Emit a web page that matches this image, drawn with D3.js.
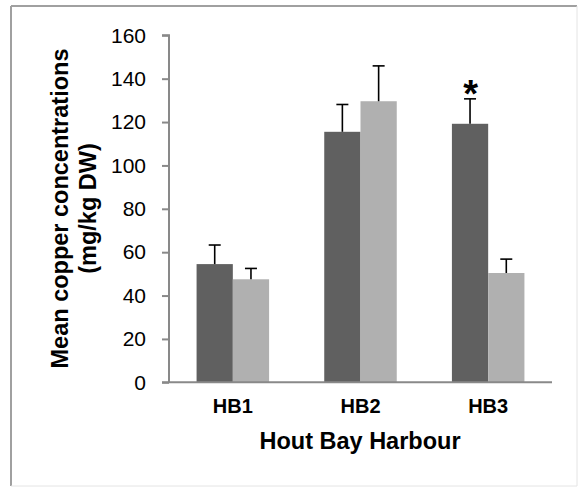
<!DOCTYPE html>
<html>
<head>
<meta charset="utf-8">
<script src="https://cdn.jsdelivr.net/npm/d3@7"></script>
<style>
  html, body { margin: 0; padding: 0; background: #fff; }
  svg { display: block; font-family: "Liberation Sans", Arial, sans-serif; }
</style>
</head>
<body>
<svg id="chart" width="578" height="487"></svg>
<script>
// Mean copper concentrations (mg/kg DW) at three Hout Bay Harbour sites
const sites = ["HB1", "HB2", "HB3"];
const seriesA = [54.5, 115.5, 119.2];   // dark bars
const seriesB = [47.5, 129.6, 50.4];    // light bars
const errorA = [8.8, 12.6, 11.5];       // upper error (SE)
const errorB = [5.0, 16.3, 6.4];
const significant = [false, false, true]; // asterisk above dark bar
const yTicks = [0, 20, 40, 60, 80, 100, 120, 140, 160];

const seriesNames = ["A", "B"];
const seriesColors = ["#606060", "#b0b0b0"];

const svg = d3.select("#chart");

// outer frame
svg.append("line").attr("x1", 11).attr("y1", 6).attr("x2", 577).attr("y2", 6)
  .attr("stroke", "#a0a0a0").attr("stroke-width", 2);
svg.append("line").attr("x1", 11).attr("y1", 6).attr("x2", 11).attr("y2", 486)
  .attr("stroke", "#a0a0a0").attr("stroke-width", 2);
svg.append("line").attr("x1", 11).attr("y1", 486).attr("x2", 577).attr("y2", 486)
  .attr("stroke", "#e4e4e4").attr("stroke-width", 1);
svg.append("line").attr("x1", 577).attr("y1", 6).attr("x2", 577).attr("y2", 486)
  .attr("stroke", "#e4e4e4").attr("stroke-width", 1);

const plot = { left: 169, right: 552, top: 35.3, bottom: 382.3 };

const x = d3.scaleBand().domain(sites)
  .range([plot.left, plot.right]).paddingInner(0.432).paddingOuter(0.216);
const xs = d3.scaleBand().domain(seriesNames).range([0, x.bandwidth()]);
const y = d3.scaleLinear().domain([0, 160]).range([plot.bottom, plot.top]);

const rows = sites.map((s, i) => ({
  site: s,
  vals: [
    { k: "A", v: seriesA[i], e: errorA[i], c: seriesColors[0] },
    { k: "B", v: seriesB[i], e: errorB[i], c: seriesColors[1] }
  ],
  sig: significant[i]
}));

// bars
const g = svg.append("g");
const groups = g.selectAll("g.site").data(rows).join("g")
  .attr("class", "site")
  .attr("transform", d => `translate(${x(d.site)},0)`);

groups.selectAll("rect").data(d => d.vals).join("rect")
  .attr("x", d => xs(d.k))
  .attr("y", d => y(d.v))
  .attr("width", xs.bandwidth())
  .attr("height", d => y(0) - y(d.v))
  .attr("fill", d => d.c);

// error bars (upper only)
const capHalf = 6;
groups.selectAll("g.err").data(d => d.vals).join("g").attr("class", "err")
  .each(function(d) {
    const cx = xs(d.k) + xs.bandwidth() / 2;
    const sel = d3.select(this);
    sel.append("line").attr("x1", cx).attr("x2", cx)
      .attr("y1", y(d.v)).attr("y2", y(d.v + d.e))
      .attr("stroke", "#000").attr("stroke-width", 1.6);
    sel.append("line").attr("x1", cx - capHalf).attr("x2", cx + capHalf)
      .attr("y1", y(d.v + d.e)).attr("y2", y(d.v + d.e))
      .attr("stroke", "#000").attr("stroke-width", 1.6);
  });

// significance marker
groups.filter(d => d.sig).append("text")
  .attr("x", xs("A") + xs.bandwidth() / 2 + 0.5)
  .attr("y", d => y(d.vals[0].v + d.vals[0].e) + 8.5)
  .attr("text-anchor", "middle")
  .attr("font-size", 38).attr("font-weight", "bold")
  .text("*");

// y axis
const yAxis = d3.axisLeft(y).tickValues(yTicks).tickSize(7).tickPadding(16).tickFormat(d3.format("d"));
const ya = svg.append("g").attr("transform", `translate(${plot.left},0)`).call(yAxis);
ya.select(".domain").attr("stroke", "#898989").attr("stroke-width", 2)
  .attr("d", `M-7,${plot.top}H0V${plot.bottom}`);
ya.selectAll(".tick line").attr("stroke", "#898989").attr("stroke-width", 2);
ya.selectAll(".tick text").attr("font-size", 21).attr("fill", "#000")
  .attr("font-family", "Liberation Sans, Arial, sans-serif");

// x axis
const xAxis = d3.axisBottom(x).tickSize(0).tickPadding(17);
const xa = svg.append("g").attr("transform", `translate(0,${plot.bottom})`).call(xAxis);
xa.select(".domain").attr("stroke", "#898989").attr("stroke-width", 2)
  .attr("d", `M${plot.left - 7},0H${plot.right}`);
xa.selectAll(".tick text").attr("font-size", 20).attr("font-weight", "bold").attr("fill", "#000")
  .attr("font-family", "Liberation Sans, Arial, sans-serif");

// axis titles
svg.append("text")
  .attr("x", (plot.left + plot.right) / 2 - 0.5).attr("y", 449)
  .attr("text-anchor", "middle").attr("font-size", 23.5).attr("font-weight", "bold")
  .text("Hout Bay Harbour");

const yt = svg.append("text")
  .attr("transform", `translate(0,${(47 + 370) / 2}) rotate(-90)`)
  .attr("text-anchor", "middle").attr("font-size", 23.5).attr("font-weight", "bold");
yt.append("tspan").attr("x", 0).attr("y", 68).text("Mean copper concentrations");
yt.append("tspan").attr("x", 0).attr("y", 95.5).text("(mg/kg DW)");
</script>
</body>
</html>
